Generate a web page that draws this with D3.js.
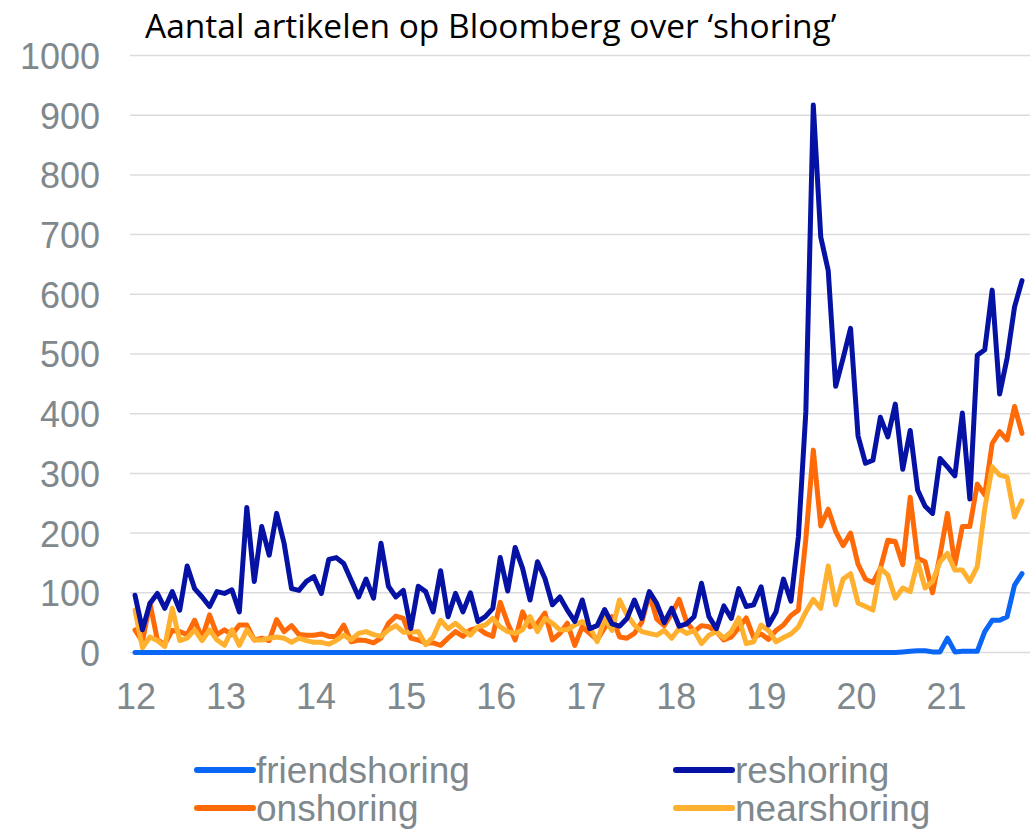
<!DOCTYPE html>
<html lang="nl">
<head>
<meta charset="utf-8">
<title>Aantal artikelen op Bloomberg over shoring</title>
<script src="https://cdnjs.cloudflare.com/ajax/libs/d3/7.8.5/d3.min.js"></script>
<style>
  body { margin: 0; background: #fff; }
  .tick-label { font-family: "Liberation Sans Narrow", "Arial Narrow", "Liberation Sans", sans-serif; fill: #7f898d; }
  .title { font-family: "Open Sans", sans-serif; fill: #000; }
</style>
</head>
<body>
<script>
// monthly counts, jan 2012 - dec 2021
const friendshoring = [
  0,0,0,0,0,0,0,0,0,0, 0,0,0,0,0,0,0,0,0,0,
  0,0,0,0,0,0,0,0,0,0, 0,0,0,0,0,0,0,0,0,0,
  0,0,0,0,0,0,0,0,0,0, 0,0,0,0,0,0,0,0,0,0,
  0,0,0,0,0,0,0,0,0,0, 0,0,0,0,0,0,0,0,0,0,
  0,0,0,0,0,0,0,0,0,0, 0,0,0,0,0,0,0,0,0,0,
  0,0,0,1,2,3,3,1,1,24, 1,2,2,2,35,54,54,60,113,132
];
const reshoring = [
  96,38,82,99,74,102,71,145,107,93, 77,102,99,105,68,243,119,211,163,233,
  183,107,104,119,127,99,156,159,149,121, 93,123,91,183,111,93,104,40,111,102,
  68,137,60,99,68,100,52,60,74,159, 103,176,141,88,152,124,80,93,71,52,
  88,40,45,72,48,44,57,88,57,102, 82,50,74,44,48,60,116,60,40,78,
  57,107,77,80,110,46,68,123,86,194, 403,917,696,640,446,493,543,363,317,322,
  394,361,416,307,372,272,245,233,325,311, 296,401,257,498,507,607,433,493,579,623
];
const onshoring = [
  38,18,83,21,14,37,35,30,54,24, 63,30,38,30,46,46,21,24,20,55,
  35,45,30,29,29,31,27,27,46,18, 21,20,16,24,49,61,57,24,21,16,
  16,12,24,35,27,38,41,32,27,84, 49,21,68,43,49,66,21,32,49,12,
  43,32,21,41,60,26,24,32,51,98, 56,45,65,89,51,35,45,43,35,21,
  26,41,58,25,31,22,37,46,62,71, 190,339,212,240,203,179,200,148,123,117,
  141,188,186,147,260,158,152,100,163,233, 147,211,211,282,264,350,370,356,412,367
];
const nearshoring = [
  71,8,26,20,10,74,20,24,38,20, 38,21,12,38,12,38,21,21,24,26,
  24,17,24,20,17,17,14,20,29,21, 32,35,30,27,38,45,34,34,35,13,
  26,54,40,49,38,29,43,46,57,43, 35,32,38,60,35,57,49,38,38,46,
  52,43,18,57,37,88,63,46,35,32, 29,37,24,40,32,37,15,29,35,24,
  35,58,15,18,46,37,18,25,31,43, 68,89,74,145,80,123,132,83,77,71,
  141,130,91,108,102,152,108,119,152,166, 138,138,119,144,241,311,297,294,227,254
];
const yearLabels = ["12","13","14","15","16","17","18","19","20","21"];
const yTicks = [0,100,200,300,400,500,600,700,800,900,1000];

const series = [
  { name: "friendshoring", values: friendshoring, color: "#0a66f5" },
  { name: "reshoring", values: reshoring, color: "#0512a3" },
  { name: "onshoring", values: onshoring, color: "#ff6a08" },
  { name: "nearshoring", values: nearshoring, color: "#ffb02f" }
];

const w = 1036, h = 829;
const svg = d3.select("body").append("svg").attr("width", w).attr("height", h);

const x = d3.scaleLinear().domain([0, reshoring.length - 1]).range([135, 1022]);
const y = d3.scaleLinear().domain([0, 1000]).range([652.5, 55.5]);
// year labels sit on their own scale, as in the original the labels drift a bit from the months
const xYear = d3.scalePoint().domain(yearLabels).range([135.5, 946]);

// title
svg.append("text")
   .attr("class", "title")
   .attr("x", 145).attr("y", 38)
   .attr("font-size", 33.5)
   .text("Aantal artikelen op Bloomberg over ‘shoring’");

// gridlines
svg.append("g").selectAll("line")
   .data(yTicks)
   .join("line")
   .attr("x1", 130).attr("x2", 1030)
   .attr("y1", d => y(d)).attr("y2", d => y(d))
   .attr("stroke", "#dcdcdc").attr("stroke-width", 1.5);

// y axis labels
const yAxis = d3.axisLeft(y).tickValues(yTicks).tickFormat(d3.format("d")).tickSize(0).tickPadding(0);
const gy = svg.append("g").attr("transform", "translate(100,0)").call(yAxis);
gy.select(".domain").remove();
gy.selectAll("text").attr("class", "tick-label").attr("font-size", 36).attr("dy", "0.36em");

// x axis labels
const xAxis = d3.axisBottom(xYear).tickSize(0).tickPadding(0);
const gx = svg.append("g").attr("transform", "translate(0,683)").call(xAxis);
gx.select(".domain").remove();
gx.selectAll("text").attr("class", "tick-label").attr("font-size", 36).attr("dy", "0.71em");

// lines
const line = d3.line().x((d, i) => x(i)).y(d => y(d));
const drawOrder = [series[2], series[3], series[1], series[0]];
svg.append("g").selectAll("path")
   .data(drawOrder)
   .join("path")
   .attr("d", d => line(d.values))
   .attr("fill", "none")
   .attr("stroke", d => d.color)
   .attr("stroke-width", 5)
   .attr("stroke-linejoin", "round")
   .attr("stroke-linecap", "round");

// legend
const legendPos = [[197, 770], [676, 770], [197, 808], [676, 808]];
const legend = svg.append("g").selectAll("g")
   .data(series)
   .join("g")
   .attr("transform", (d, i) => `translate(${legendPos[i][0]},${legendPos[i][1]})`);
legend.append("line")
   .attr("x1", 0).attr("x2", 56)
   .attr("stroke", d => d.color).attr("stroke-width", 6).attr("stroke-linecap", "round");
legend.append("text")
   .attr("class", "tick-label")
   .attr("x", 59).attr("dy", "0.36em")
   .attr("font-size", 37)
   .text(d => d.name);
</script>
</body>
</html>
